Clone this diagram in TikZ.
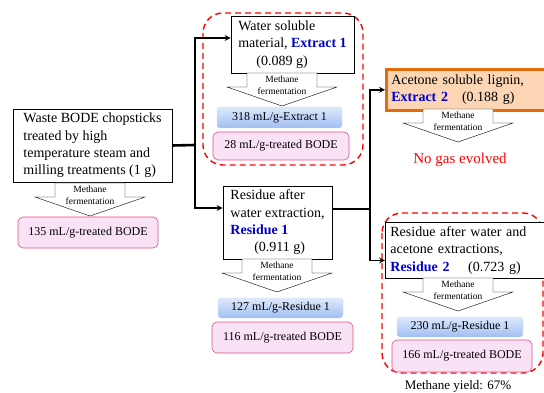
\documentclass[tikz,border=0pt]{standalone}
\usepackage{fontspec}
\setmainfont{Liberation Serif}
\usepackage{xcolor}
\usetikzlibrary{arrows.meta, positioning}

\definecolor{rosa}{RGB}{249,226,245}
\definecolor{rosaborde}{RGB}{226,80,130}
\definecolor{azulclaro}{RGB}{222,233,252}
\definecolor{azuloscuro}{RGB}{160,190,242}
\definecolor{azultexto}{RGB}{0,0,205}
\definecolor{naranja}{RGB}{228,108,10}
\definecolor{naranjaclaro}{RGB}{252,213,181}
\definecolor{rojo}{RGB}{255,0,0}

\newcommand{\azul}[1]{\textcolor{azultexto}{\textbf{#1}}}

\begin{document}
\begin{tikzpicture}[
        x=1pt, y=-1pt,
        font=\fontsize{14}{17.3}\selectfont,
        % Estilo general para los bloques de texto
        block/.style={
            rectangle,
            draw=black,
            thick,
            fill=white,
            align=left,
            inner sep=4pt
        },
        % Estilo para los resultados por gramo tratado
        pinkbox/.style={
            rectangle,
            rounded corners=5pt,
            draw=rosaborde,
            semithick,
            fill=rosa,
            align=center,
            inner sep=0pt,
            font=\fontsize{12}{14}\selectfont
        },
        % Estilo para los resultados por gramo de fraccion
        bluebox/.style={
            rectangle,
            rounded corners=3pt,
            draw=azuloscuro!50,
            top color=azulclaro,
            bottom color=azuloscuro,
            align=center,
            inner sep=0pt,
            font=\fontsize{12}{14}\selectfont
        },
        % Estilo para los marcos discontinuos
        dashbox/.style={
            draw=rojo,
            line width=1.4pt,
            dash pattern=on 6pt off 4pt,
            rounded corners=20pt
        },
        % Estilo para las lineas de conexion
        line/.style={
            line width=2pt
        },
        % Estilo para las flechas
        arrow/.style={
            line width=1.6pt,
            ->,
            >=stealth
        },
        % Flecha gruesa de fermentacion
        fermarrow/.pic={
            \draw[fill=white, thin] (-35,0) -- (-35,14) -- (-55,14) -- (0,33)
                -- (55,14) -- (35,14) -- (35,0) -- cycle;
            \node[font=\fontsize{9.5}{12}\selectfont, align=center, inner sep=0pt]
                (-lbl) at (0,12) {Methane\\fermentation};
        }
    ]

        \useasboundingbox (0,0) rectangle (544,393);
        \clip (0,0) rectangle (544,393);

        % Marcos discontinuos
        \draw[dashbox] (203,13) rectangle (363,165);
        \draw[dashbox] (382,213) rectangle (543,373);

        % Material de partida
        \node[block, minimum width=159pt, minimum height=73pt] (bode) at (92.5,145.5)
            {Waste BODE chopsticks\\treated by high\\temperature steam and\\milling treatments (1 g)};
        \pic (f0) at (90,183) {fermarrow};
        \node[pinkbox, minimum width=140pt, minimum height=31pt] (r0) at (88,232.5)
            {135 mL/g-treated BODE};

        % Extracto 1
        \node[block, minimum width=123pt, minimum height=57pt] (ext1) at (292.5,44.5)
            {Water soluble\\material, \azul{Extract 1}\\\hspace*{1.3em}(0.089 g)};
        \pic (f1) at (282,73) {fermarrow};
        \node[bluebox, minimum width=125pt, minimum height=21pt] (b1) at (279.5,117.5)
            {318 mL/g-Extract 1};
        \node[pinkbox, minimum width=136pt, minimum height=28pt] (r1) at (281,146)
            {28 mL/g-treated BODE};

        % Residuo 1
        \node[block, minimum width=109pt, minimum height=73pt] (res1) at (277.5,222.5)
            {Residue after\\water extraction,\\\azul{Residue 1}\\\hspace*{1.7em}(0.911 g)};
        \pic (f2) at (277,259) {fermarrow};
        \node[bluebox, minimum width=125pt, minimum height=20pt] (b2) at (280.5,308)
            {127 mL/g-Residue 1};
        \node[pinkbox, minimum width=141pt, minimum height=31pt] (r2) at (282.5,337.5)
            {116 mL/g-treated BODE};

        % Extracto 2
        \node[block, draw=naranja, line width=2.6pt, fill=naranjaclaro, anchor=north west,
            minimum width=175pt, minimum height=41pt, text width=165pt] (ext2) at (385,68)
            {Acetone soluble lignin,\\\azul{Extract 2}\quad(0.188 g)};
        \pic (f3) at (458,109) {fermarrow};
        \node[text=rojo, font=\fontsize{15}{17}\selectfont, inner sep=0pt] (nogas) at (460,160)
            {No gas evolved};

        % Residuo 2
        \node[block, anchor=north west, minimum width=175pt, minimum height=56pt,
            text width=165pt] (res2) at (385,222)
            {Residue after water and\\acetone extractions,\\\azul{Residue 2}\quad\ (0.723 g)};
        \pic (f4) at (458,278) {fermarrow};
        \node[bluebox, minimum width=126pt, minimum height=20pt] (b3) at (460,327)
            {230 mL/g-Residue 1};
        \node[pinkbox, minimum width=140pt, minimum height=32pt] (r3) at (462,356)
            {166 mL/g-treated BODE};
        \node[font=\fontsize{13}{15}\selectfont, inner sep=0pt] (yield) at (458,386)
            {Methane yield: 67\%};

        % --- CONEXIONES ---
        \coordinate (j1) at (195,145);
        \coordinate (j2) at (370,209);

        \draw[line, line width=2.6pt] (bode.east) -- (j1);
        \draw[arrow] (j1) |- ([yshift=6.5pt]ext1.west);
        \draw[arrow] (j1) |- ([yshift=14.5pt]res1.west);

        \draw[line, line width=1.6pt] ([yshift=13.5pt]res1.east) -- (j2);
        \draw[arrow] (j2) |- (ext2.west);
        \draw[arrow] (j2) |- ([yshift=-10pt]res2.west);

    \end{tikzpicture}
\end{document}
